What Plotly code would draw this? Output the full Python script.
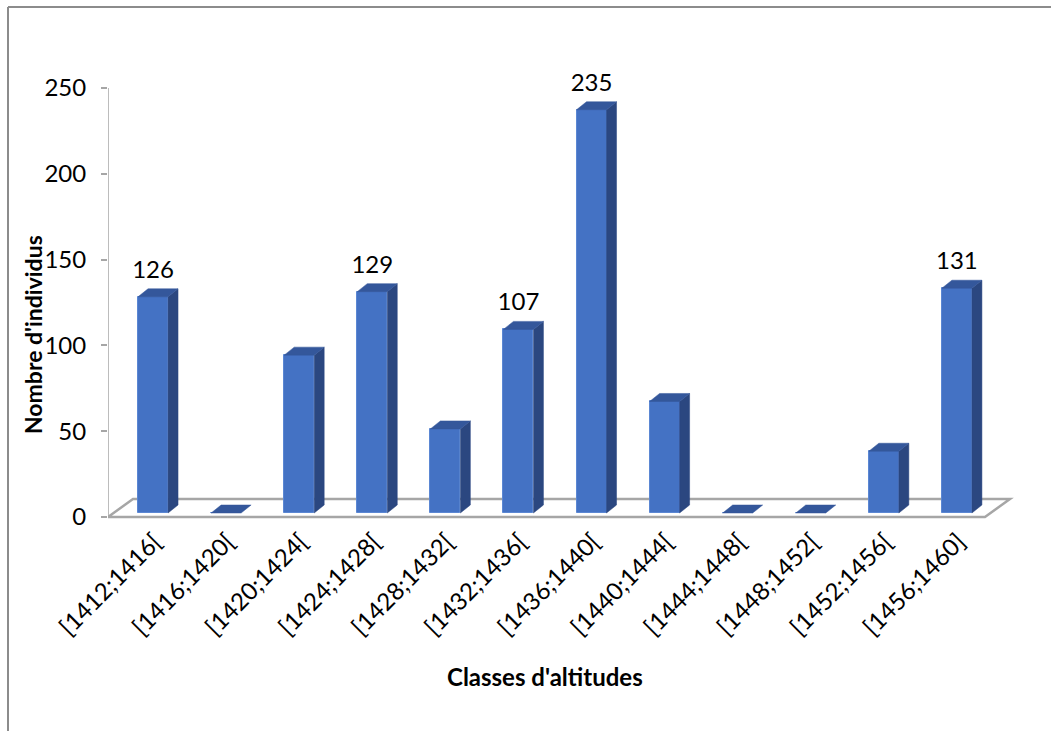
import plotly.graph_objects as go

# Altitude classes and counts
classes = ["[1412;1416[", "[1416;1420[", "[1420;1424[", "[1424;1428[",
           "[1428;1432[", "[1432;1436[", "[1436;1440[", "[1440;1444[",
           "[1444;1448[", "[1448;1452[", "[1452;1456[", "[1456;1460]"]
counts = [126, 0, 92, 129, 49, 107, 235, 65, 0, 0, 36, 131]
labelled = [126, None, None, 129, None, 107, 235, None, None, None, None, 131]
y_ticks = [0, 50, 100, 150, 200, 250]

# Colours of the pseudo-3D columns
FRONT = "#4472C4"
SIDE = "#2B4780"
TOP = "#34579B"
GREY = "#A6A6A6"
FONT = "Lato"

# Layout geometry (pixels)
W_PX, H_PX = 1051, 731
L, R, T, B = 108, 21, 60, 209
plot_w = W_PX - L - R
plot_h = H_PX - T - B
n = len(classes)
px_per_cat = 73.08
px_per_unit = 1.716
zero_px = 517                       # pixel row of the value 0 on the front plane
x0, x1 = -0.5, -0.5 + plot_w / px_per_cat
y0 = -(T + plot_h - zero_px) / px_per_unit
y1 = y0 + plot_h / px_per_unit

# Depth offsets (data units)
floor_dx, floor_dy = 25 / px_per_cat, 18 / px_per_unit
bar_off = 8.5 / px_per_cat          # column shift to mid-depth
bar_w = 30 / px_per_cat
bar_base = 4 / px_per_unit
side_dx, side_dy = 10 / px_per_cat, 8 / px_per_unit
label_gap = 5 / px_per_unit

fig = go.Figure()

# Front faces of the columns
fig.add_trace(go.Bar(
    x=[i + bar_off for i in range(n)], y=counts, base=bar_base, width=bar_w,
    marker=dict(color=FRONT, line=dict(color="#5B87D3", width=1)),
    hoverinfo="skip", showlegend=False,
))

# Side and top faces computed from each count
side_x, side_y, top_x, top_y = [], [], [], []
for i, v in enumerate(counts):
    xl = i + bar_off - bar_w / 2
    xr = i + bar_off + bar_w / 2
    yb = bar_base
    yt = bar_base + v
    if v > 0:
        side_x += [xr, xr + side_dx, xr + side_dx, xr, xr, None]
        side_y += [yb, yb + side_dy, yt + side_dy, yt, yb, None]
    top_x += [xl, xr, xr + side_dx, xl + side_dx, xl, None]
    top_y += [yt, yt, yt + side_dy, yt + side_dy, yt, None]

fig.add_trace(go.Scatter(x=side_x, y=side_y, mode="lines", fill="toself",
                         fillcolor=SIDE, line=dict(width=0.5, color=SIDE),
                         hoverinfo="skip", showlegend=False))
fig.add_trace(go.Scatter(x=top_x, y=top_y, mode="lines", fill="toself",
                         fillcolor=TOP, line=dict(width=0.5, color=TOP),
                         hoverinfo="skip", showlegend=False))

# Data labels
fig.add_trace(go.Scatter(
    x=[i + bar_off for i in range(n)],
    y=[(v + bar_base + side_dy + label_gap) if v is not None else None for v in labelled],
    text=[str(v) if v is not None else "" for v in labelled],
    mode="text", textposition="top center",
    textfont=dict(family=FONT, size=24, color="#000000"),
    hoverinfo="skip", showlegend=False, cliponaxis=False,
))

# Floor and value axis line
fx = [x0, n - 0.5, n - 0.5 + floor_dx, x0 + floor_dx]
fy = [0, 0, floor_dy, floor_dy]
path = "M {} {} L {} {} L {} {} L {} {} Z".format(fx[0], fy[0], fx[1], fy[1],
                                                 fx[2], fy[2], fx[3], fy[3])
shapes = [
    dict(type="path", path=path, xref="x", yref="y", layer="below",
         line=dict(color=GREY, width=2.5), fillcolor="white"),
    dict(type="line", xref="x", yref="y", x0=x0, x1=x0, y0=0, y1=y_ticks[-1],
         layer="below", line=dict(color=GREY, width=1.5)),
]

# Outer chart frame (left and top edges)
def px_to_paper_x(px):
    return (px - L) / plot_w

def py_to_paper_y(py):
    return (H_PX - B - py) / plot_h

shapes += [
    dict(type="line", xref="paper", yref="paper",
         x0=px_to_paper_x(8), x1=px_to_paper_x(8),
         y0=py_to_paper_y(7), y1=py_to_paper_y(H_PX + 5),
         line=dict(color="#8C8C8C", width=2)),
    dict(type="line", xref="paper", yref="paper",
         x0=px_to_paper_x(8), x1=px_to_paper_x(W_PX + 5),
         y0=py_to_paper_y(7), y1=py_to_paper_y(7),
         line=dict(color="#8C8C8C", width=2)),
]

annotations = [
    dict(text="<b>Nombre d'individus</b>", xref="paper", yref="paper",
         x=px_to_paper_x(33), y=py_to_paper_y(335), textangle=-90,
         xanchor="center", yanchor="middle",
         showarrow=False, font=dict(family=FONT, size=23, color="#000000")),
    dict(text="<b>Classes d'altitudes</b>", xref="paper", yref="paper",
         x=px_to_paper_x(545), y=py_to_paper_y(676),
         xanchor="center", yanchor="middle",
         showarrow=False, font=dict(family=FONT, size=24, color="#000000")),
]

fig.update_layout(
    width=W_PX, height=H_PX,
    margin=dict(l=L, r=R, t=T, b=B, pad=0),
    paper_bgcolor="white", plot_bgcolor="white",
    shapes=shapes, annotations=annotations,
    showlegend=False, bargap=0,
    xaxis=dict(range=[x0, x1], showgrid=False, zeroline=False, showline=False,
               tickmode="array", tickvals=[i + 10 / px_per_cat for i in range(n)],
               ticktext=classes, tickangle=-45, ticks="",
               tickfont=dict(family=FONT, size=24, color="#000000")),
    yaxis=dict(range=[y0, y1], showgrid=False, zeroline=False, showline=False,
               tickmode="array", tickvals=y_ticks, ticks="outside",
               ticklen=6, tickcolor=GREY, tickwidth=1.5,
               ticklabelstandoff=10,
               tickfont=dict(family=FONT, size=24, color="#000000")),
)

fig.write_html("out.html")
